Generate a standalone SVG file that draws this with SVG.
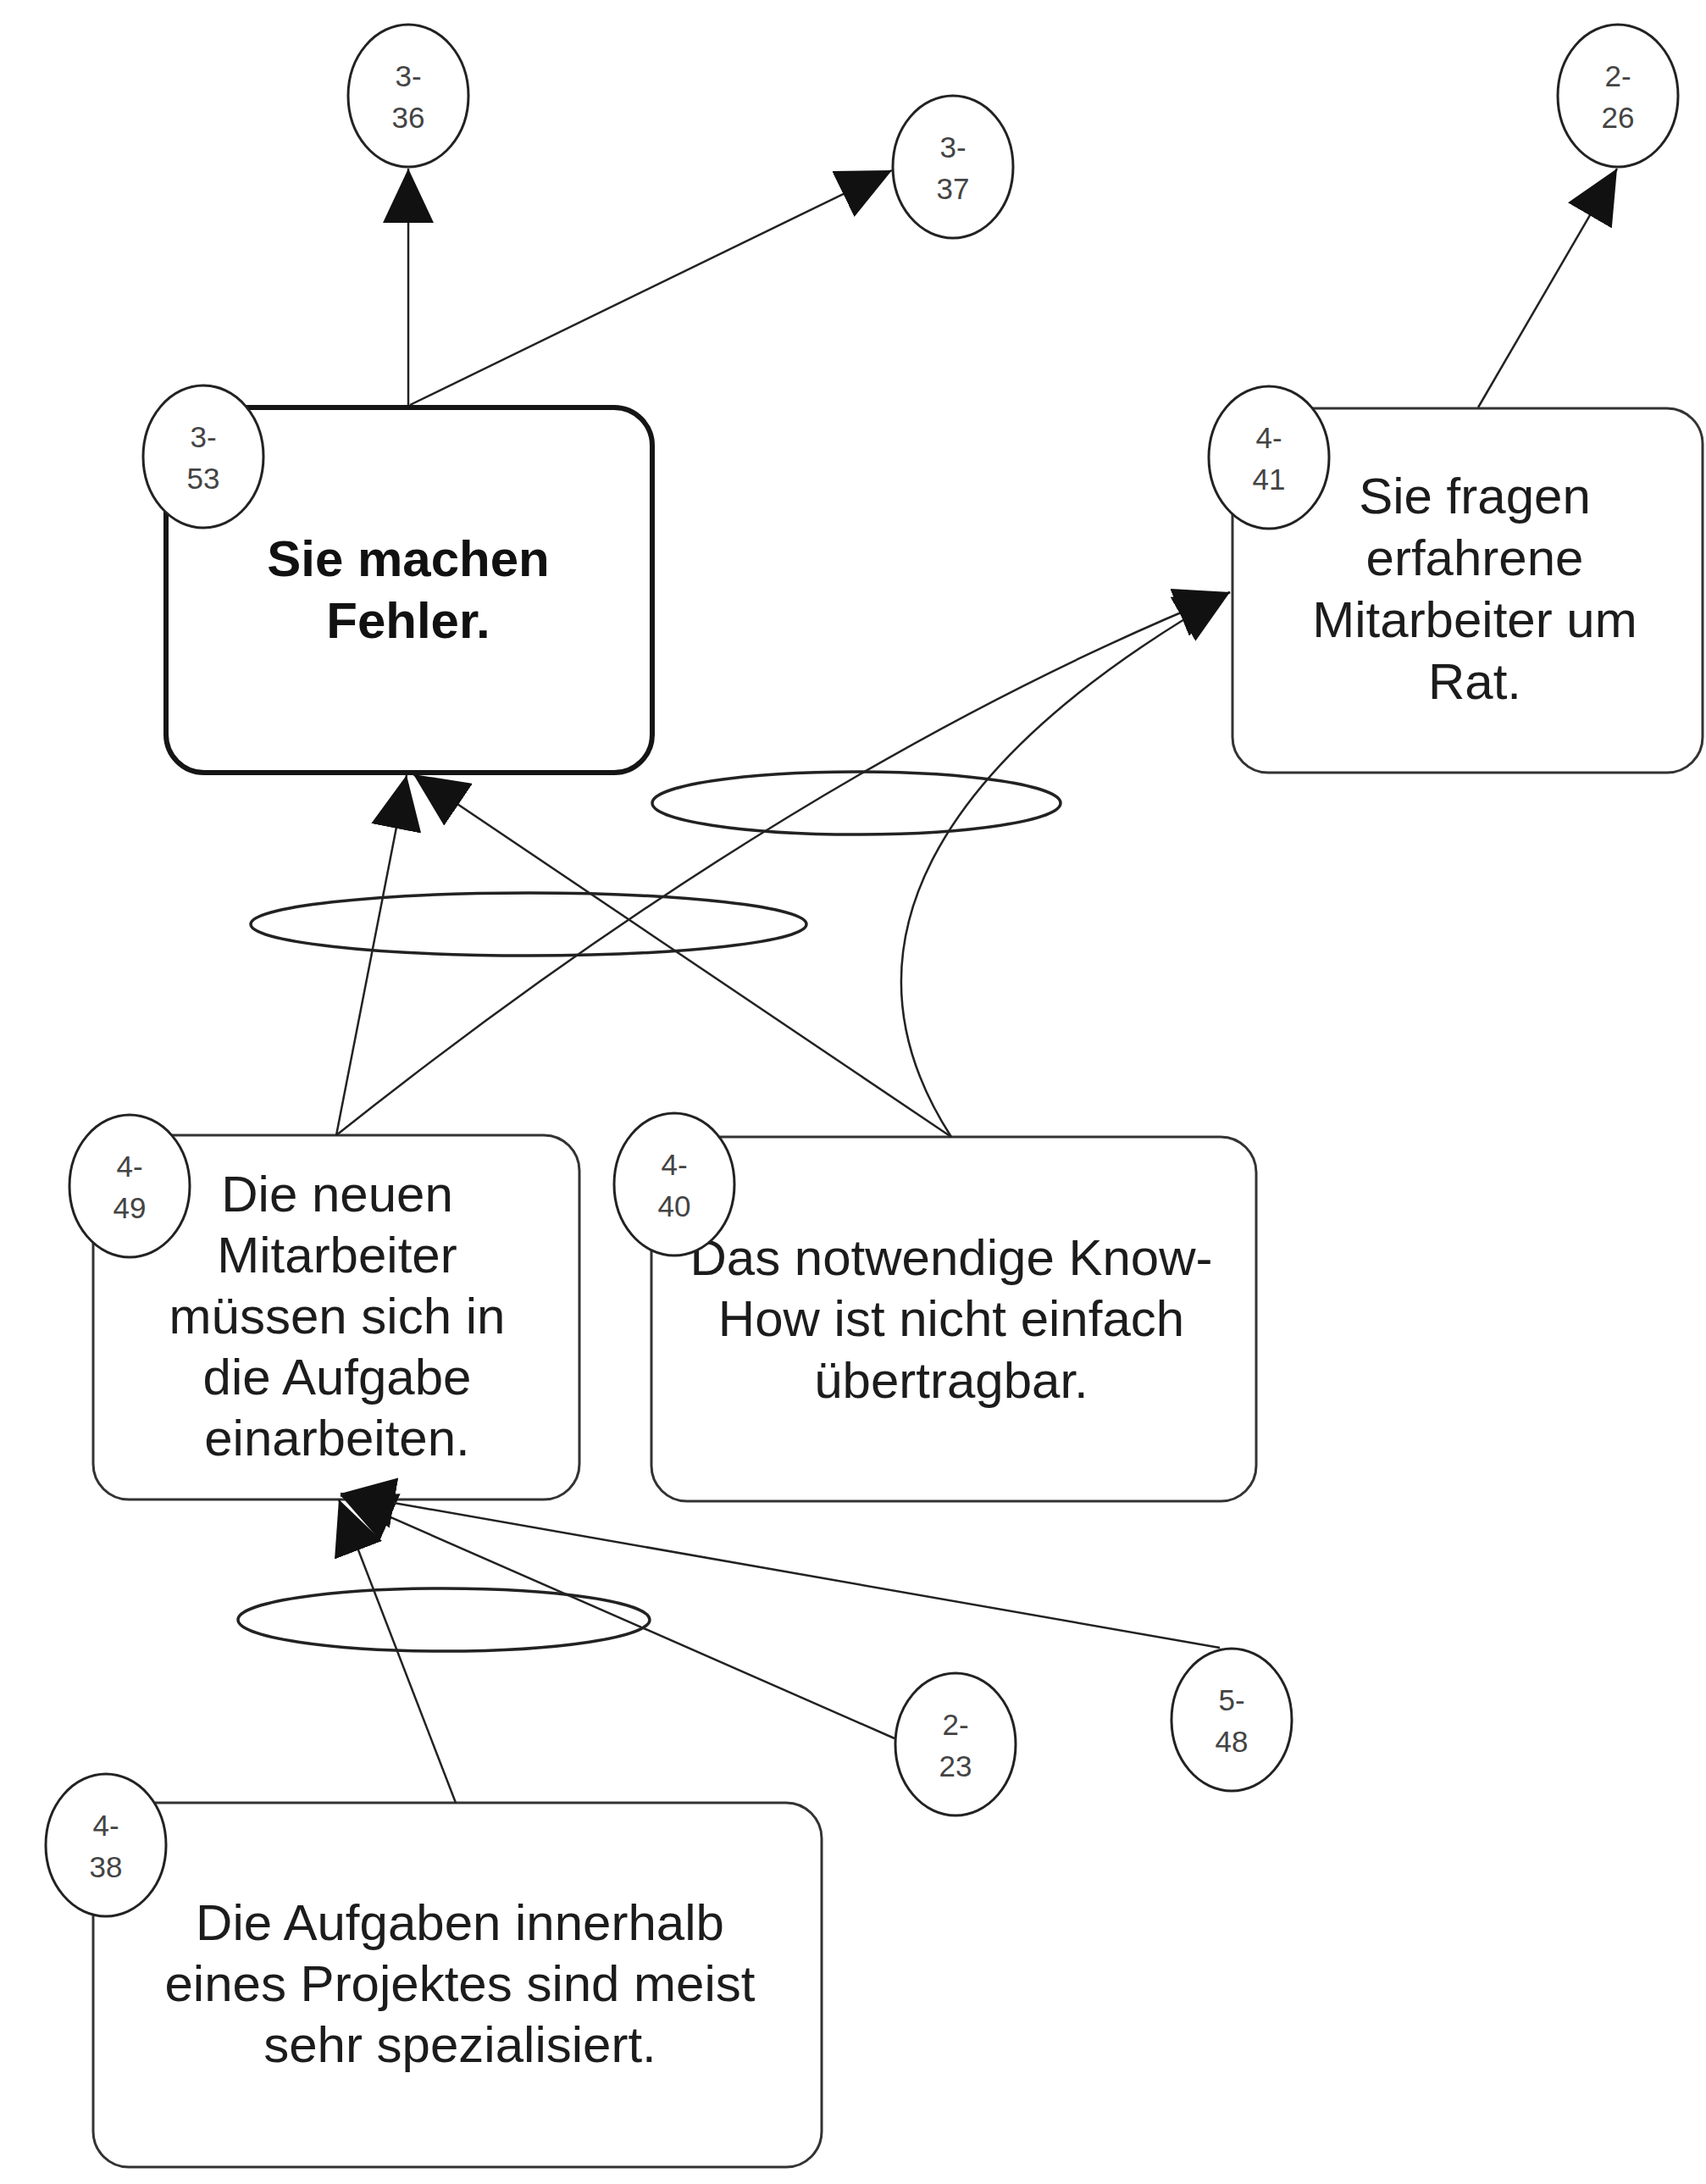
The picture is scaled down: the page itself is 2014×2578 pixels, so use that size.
<svg xmlns="http://www.w3.org/2000/svg" width="2014" height="2578" viewBox="0 0 2014 2578">
<style>
.bg{fill:#fff}
.box{fill:#fff;stroke:#333;stroke-width:3}
.boxm{fill:#fff;stroke:#151515;stroke-width:6}
.lbl{fill:#fff;stroke:#222;stroke-width:3}
.and{fill:none;stroke:#222;stroke-width:3.5}
.conn{fill:none;stroke:#222;stroke-width:2.5;marker-end:url(#ah)}
.t{font-family:"Liberation Sans",Arial,sans-serif;font-size:60px;fill:#1c1c1c;text-anchor:middle}
.tb{font-weight:bold;fill:#111}
.n{font-family:"Liberation Sans",Arial,sans-serif;font-size:35px;fill:#444;text-anchor:middle}
</style>
<defs>
<marker id="ah" markerUnits="userSpaceOnUse" markerWidth="64" markerHeight="60" viewBox="0 0 64 60" refX="64" refY="30" orient="auto"><path d="M0,0 L64,30 L0,60 z" fill="#111"/></marker>
</defs>
<rect class="bg" x="0" y="0" width="2014" height="2578"/>

<g id="node-3-36">
<ellipse class="lbl" cx="482" cy="113" rx="71" ry="84"/>
<text class="n" x="482" y="102">3-</text><text class="n" x="482" y="151">36</text>
</g>
<g id="node-3-37">
<ellipse class="lbl" cx="1125" cy="197" rx="71" ry="84"/>
<text class="n" x="1125" y="186">3-</text><text class="n" x="1125" y="235">37</text>
</g>
<g id="node-2-26">
<ellipse class="lbl" cx="1910" cy="113" rx="71" ry="84"/>
<text class="n" x="1910" y="102">2-</text><text class="n" x="1910" y="151">26</text>
</g>

<g id="node-3-53">
<rect class="boxm" x="196" y="481" width="574" height="431" rx="45" ry="45"/>
<text class="t tb" x="482" y="680">Sie machen</text>
<text class="t tb" x="482" y="753">Fehler.</text>
<ellipse class="lbl" cx="240" cy="539" rx="71" ry="84"/>
<text class="n" x="240" y="528">3-</text><text class="n" x="240" y="577">53</text>
</g>

<g id="node-4-41">
<rect class="box" x="1455" y="482" width="555" height="430" rx="42" ry="42"/>
<text class="t" x="1741" y="606">Sie fragen</text>
<text class="t" x="1741" y="679">erfahrene</text>
<text class="t" x="1741" y="752">Mitarbeiter um</text>
<text class="t" x="1741" y="825">Rat.</text>
<ellipse class="lbl" cx="1498" cy="540" rx="71" ry="84"/>
<text class="n" x="1498" y="529">4-</text><text class="n" x="1498" y="578">41</text>
</g>

<g id="node-4-49">
<rect class="box" x="110" y="1340" width="574" height="430" rx="42" ry="42"/>
<text class="t" x="398" y="1430">Die neuen</text>
<text class="t" x="398" y="1502">Mitarbeiter</text>
<text class="t" x="398" y="1574">müssen sich in</text>
<text class="t" x="398" y="1646">die Aufgabe</text>
<text class="t" x="398" y="1718">einarbeiten.</text>
<ellipse class="lbl" cx="153" cy="1400" rx="71" ry="84"/>
<text class="n" x="153" y="1389">4-</text><text class="n" x="153" y="1438">49</text>
</g>

<g id="node-4-40">
<rect class="box" x="769" y="1342" width="714" height="430" rx="42" ry="42"/>
<text class="t" x="1123" y="1505">Das notwendige Know-</text>
<text class="t" x="1123" y="1577">How ist nicht einfach</text>
<text class="t" x="1123" y="1650">übertragbar.</text>
<ellipse class="lbl" cx="796" cy="1398" rx="71" ry="84"/>
<text class="n" x="796" y="1387">4-</text><text class="n" x="796" y="1436">40</text>
</g>

<g id="node-4-38">
<rect class="box" x="110" y="2128" width="860" height="430" rx="42" ry="42"/>
<text class="t" x="543" y="2290">Die Aufgaben innerhalb</text>
<text class="t" x="543" y="2362">eines Projektes sind meist</text>
<text class="t" x="543" y="2434">sehr spezialisiert.</text>
<ellipse class="lbl" cx="125" cy="2178" rx="71" ry="84"/>
<text class="n" x="125" y="2167">4-</text><text class="n" x="125" y="2216">38</text>
</g>

<g id="node-2-23">
<ellipse class="lbl" cx="1128" cy="2059" rx="71" ry="84"/>
<text class="n" x="1128" y="2048">2-</text><text class="n" x="1128" y="2097">23</text>
</g>
<g id="node-5-48">
<ellipse class="lbl" cx="1454" cy="2030" rx="71" ry="84"/>
<text class="n" x="1454" y="2019">5-</text><text class="n" x="1454" y="2068">48</text>
</g>

<g id="connectors">
<ellipse class="and" cx="624" cy="1091" rx="328" ry="37"/>
<ellipse class="and" cx="1011" cy="948" rx="241" ry="37"/>
<ellipse class="and" cx="524" cy="1912" rx="243" ry="37"/>
<path class="conn" d="M482 478 L482 199"/>
<path class="conn" d="M484 478 L1053 201"/>
<path class="conn" d="M1745 481 L1909 199"/>
<path class="conn" d="M397 1340 L480 915"/>
<path class="conn" d="M1123 1342 L488 914"/>
<path class="conn" d="M397 1340 Q948 902 1452 699"/>
<path class="conn" d="M1123 1342 C980 1120 1100 900 1452 699"/>
<path class="conn" d="M538 2128 L400 1770"/>
<path class="conn" d="M1056 2052 L402 1765"/>
<path class="conn" d="M1440 1945 L402 1763"/>
</g>
</svg>
